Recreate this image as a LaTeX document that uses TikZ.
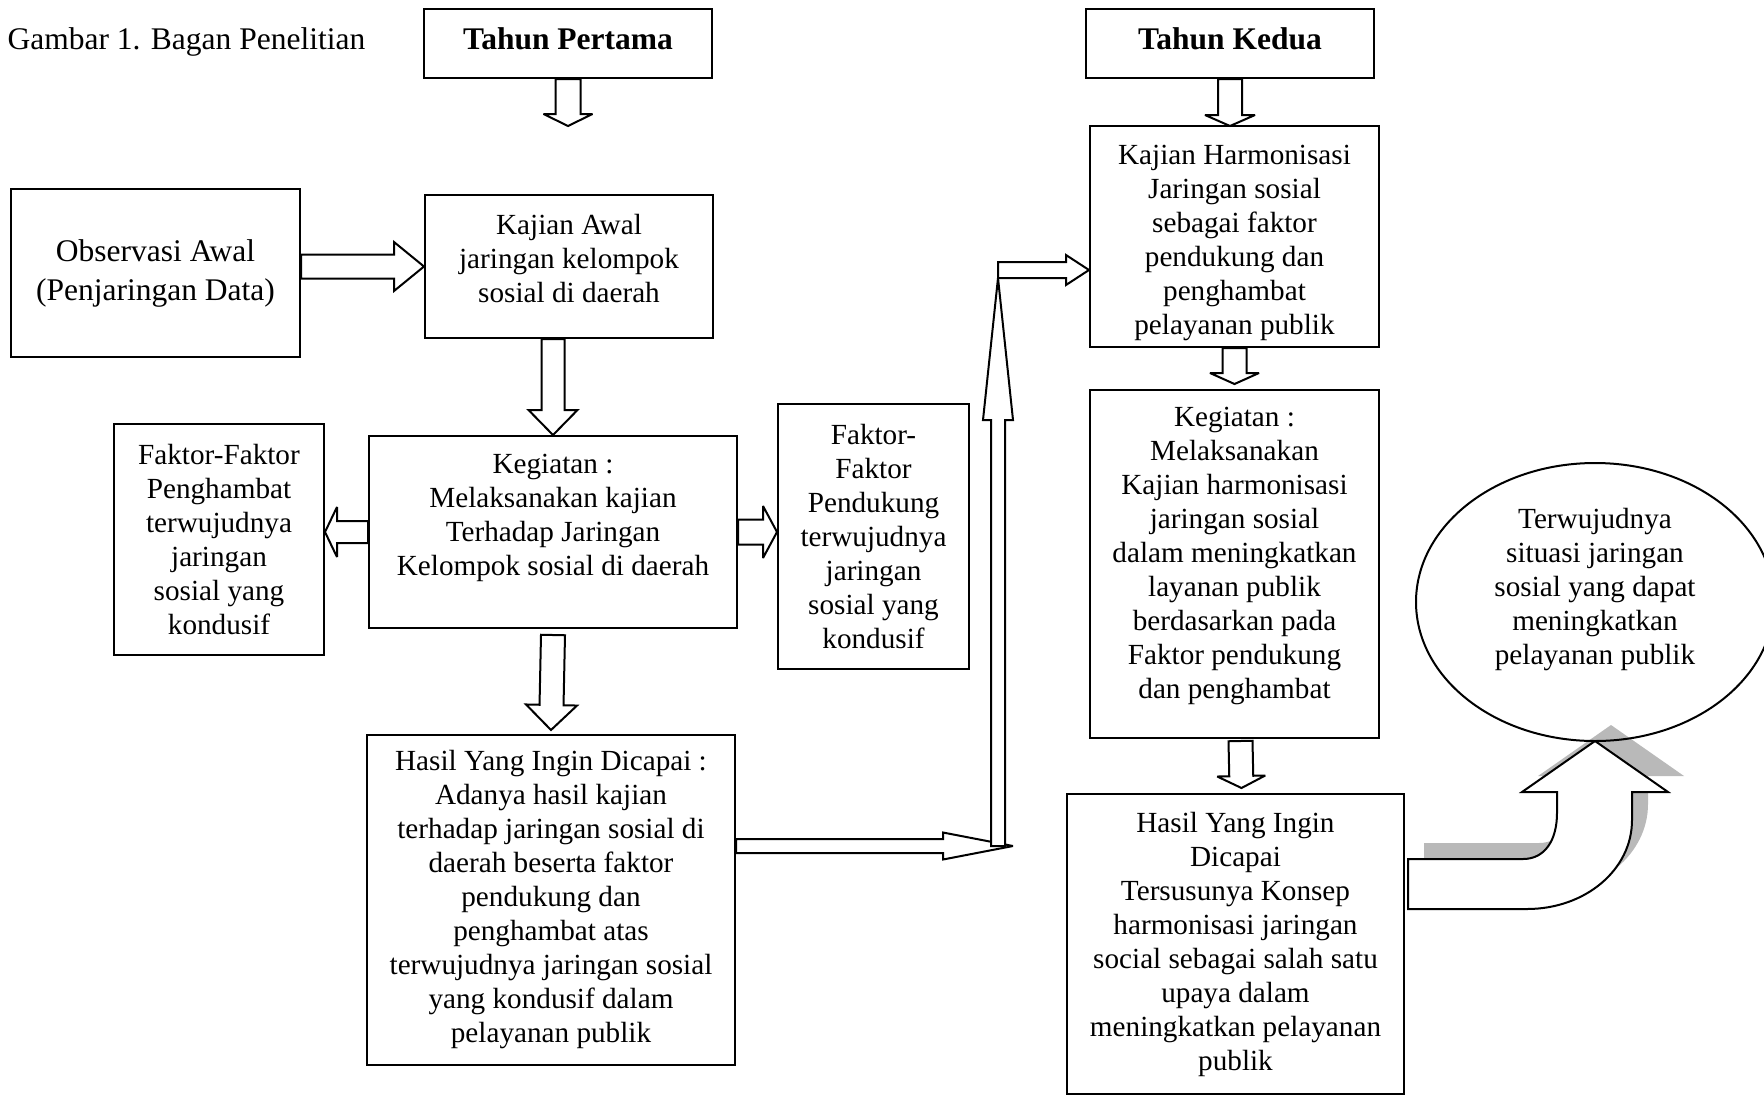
\documentclass[tikz,border=0pt]{standalone}
\usepackage{fontspec}
\setmainfont{Liberation Serif}
\usetikzlibrary{calc}
\tikzset{box/.style={draw,line width=2pt,align=center,inner sep=0pt,
          font=\fontsize{29.2}{34}\selectfont},
         big/.style={font=\fontsize{31.5}{39}\selectfont},
         arrowbody/.style={draw,fill=white,line width=2pt,miter limit=4},
         shade/.style={fill=gray!55}}
% block arrow: {from}{to}{half shaft}{half head}{head length}
\newcommand\blockarr[5]{%
  \path let \p1=#1, \p2=#2 in
    \pgfextra{\pgfmathsetmacro\arrA{atan2(\y2-\y1,\x2-\x1)}%
              \pgfmathsetmacro\arrL{veclen(\x2-\x1,\y2-\y1)}%
              \xdef\arrang{\arrA}\xdef\arrlen{\arrL}};
  \draw[arrowbody,shift={#1},rotate=\arrang]
    (0,-#3) -- ({\arrlen-#5},-#3) -- ({\arrlen-#5},-#4) -- (\arrlen,0)
    -- ({\arrlen-#5},#4) -- ({\arrlen-#5},#3) -- (0,#3) -- cycle;}

\begin{document}
\begin{tikzpicture}[x=1pt,y=-1pt]
    \useasboundingbox (0,0) rectangle (1764,1096);

    \node[big,anchor=west] (cap) at (4,42) {Gambar 1. Bagan Penelitian};
    \node[box,big,minimum width=288,minimum height=69] (tp) at (568,43.5) {\textbf{Tahun Pertama}\\[-30pt]\mbox{}};
    \node[box,big,minimum width=288,minimum height=69] (tk) at (1230,43.5) {\textbf{Tahun Kedua}\\[-30pt]\mbox{}};

    % tahun pertama
    \node[box,big,minimum width=289,minimum height=168] (obs) at (155.5,273) {Observasi Awal\\(Penjaringan Data)};
    \node[box,minimum width=288,minimum height=143] (ka) at (569,266.5) {Kajian Awal\\jaringan kelompok\\sosial di daerah\\[-17pt]\mbox{}};
    \node[box,minimum width=368,minimum height=192] (kg) at (553,532) {Kegiatan :\\Melaksanakan kajian\\Terhadap Jaringan\\Kelompok sosial di daerah\\ \mbox{}};
    \node[box,minimum width=210,minimum height=231] (ph) at (219,539.5) {Faktor-Faktor\\Penghambat\\terwujudnya\\jaringan\\sosial yang\\kondusif};
    \node[box,minimum width=191,minimum height=265] (pd) at (873.5,536.5) {Faktor-\\Faktor\\Pendukung\\terwujudnya\\jaringan\\sosial yang\\kondusif};
    \node[box,minimum width=368,minimum height=330] (hs) at (551,900) {Hasil Yang Ingin Dicapai :\\Adanya hasil kajian\\terhadap jaringan sosial  di\\daerah beserta faktor\\pendukung dan\\penghambat atas\\terwujudnya jaringan sosial\\yang kondusif dalam\\pelayanan publik};

    % tahun kedua
    \node[box,minimum width=289,minimum height=221] (kh) at (1234.5,236.5) {\mbox{}\\[-2pt]Kajian Harmonisasi\\Jaringan sosial\\sebagai faktor\\pendukung dan\\penghambat\\pelayanan publik};
    \node[box,minimum width=289,minimum height=348] (k2) at (1234.5,564) {Kegiatan :\\Melaksanakan\\Kajian harmonisasi\\jaringan sosial\\dalam meningkatkan\\layanan publik\\berdasarkan pada\\Faktor pendukung\\dan penghambat\\[-12pt]\mbox{}};
    \node[box,minimum width=337,minimum height=300] (h2) at (1235.5,944) {Hasil Yang Ingin\\Dicapai\\Tersusunya Konsep\\harmonisasi jaringan\\social sebagai salah satu\\upaya dalam\\meningkatkan pelayanan\\publik};

    \coordinate (bend1) at (998,846);
    \coordinate (bend2) at (998,270);

    \blockarr{(tp.south)}{($(tp.south)+(0,47)$)}{12.5}{24.5}{12}
    \blockarr{(tk.south)}{($(tk.south)+(0,47)$)}{12}{25}{11}
    \blockarr{(obs.east |- ka.west)}{(ka.west)}{12}{24.5}{30}
    \blockarr{(kg.north |- ka.south)}{(kg.north)}{11.5}{24.5}{25}
    \blockarr{(kg.west)}{(ph.east |- kg.west)}{11}{25}{12}
    \blockarr{(kg.east)}{(pd.west |- kg.east)}{12.5}{26}{14}
    \blockarr{($(kg.south)+(0,6)$)}{($(hs.north)+(0,-4)$)}{12}{25.5}{25}
    \blockarr{(kh.south)}{($(k2.north)+(0,-5)$)}{12}{24.5}{11}
    \blockarr{($(k2.south)+(6,2)$)}{($(h2.north)+(6,-5)$)}{12}{24}{12}
    \blockarr{(hs.east |- bend1)}{($(bend1)+(15,0)$)}{7}{13.5}{70}
    \blockarr{(bend1)}{($(bend2)+(0,8)$)}{7}{15}{142}
    \blockarr{(bend2)}{(kh.west |- bend2)}{8}{15}{23}

    % bent arrow to the goal
    \fill[shade,shift={(16,-16)}] (1408,909) -- (1408,859) -- (1523,859)
        .. controls (1545,859) and (1557,840) .. (1557,813) -- (1557,792) -- (1522,792)
        -- (1595,741) -- (1668,792) -- (1632,792) -- (1632,820)
        .. controls (1632,870) and (1585,909) .. (1527,909) -- cycle;
    \draw[arrowbody] (1408,909) -- (1408,859) -- (1523,859)
        .. controls (1545,859) and (1557,840) .. (1557,813) -- (1557,792) -- (1522,792)
        -- (1595,741) -- (1668,792) -- (1632,792) -- (1632,820)
        .. controls (1632,870) and (1585,909) .. (1527,909) -- cycle;

    \node[align=center,font=\fontsize{29.2}{34}\selectfont] (goal) at (1595,590) {Terwujudnya\\situasi jaringan\\sosial yang dapat\\meningkatkan\\pelayanan publik};
    \draw[line width=2pt] ($(goal.center)+(0,12)$) ellipse [x radius=179pt,y radius=139pt];
\end{tikzpicture}
\end{document}
